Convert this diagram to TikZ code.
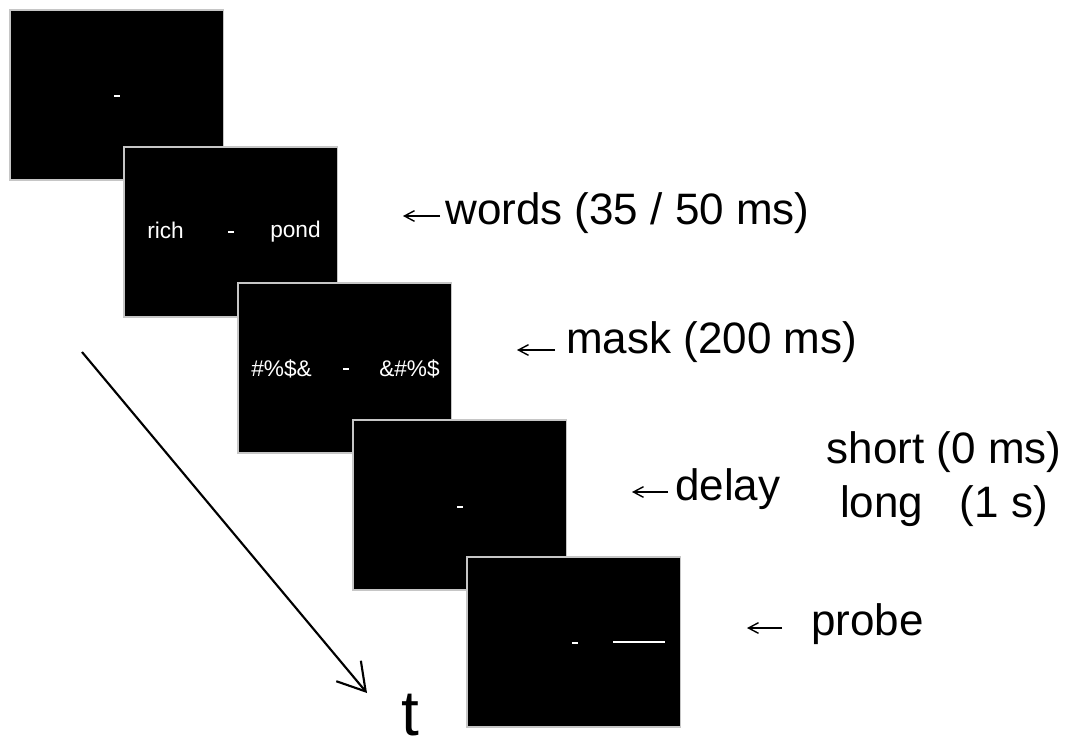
\documentclass[tikz,border=0pt]{standalone}
\usepackage{fontspec}
\setmainfont{Liberation Sans}
\usetikzlibrary{arrows.meta}

\begin{document}
\begin{tikzpicture}[x=0.75pt, y=-0.75pt,
  screen/.style={rectangle, fill=black, draw=gray!45, line width=0.8pt,
    anchor=north west, inner sep=0pt, outer sep=0pt,
    minimum width=160pt, minimum height=127.5pt},
  stim/.style={text=white, inner sep=0pt, anchor=base west,
    font=\fontsize{17}{20}\selectfont},
  fixmark/.style={fill=white, draw=none, inner sep=0pt,
    minimum width=4pt, minimum height=1.4pt},
  lbl/.style={inner sep=0pt, anchor=base west,
    font=\fontsize{33}{40}\selectfont},
  lblarrow/.style={line width=1.05pt, -{Straight Barb[length=7.5pt, width=8pt]}},
  timearrow/.style={line width=1.6pt, -{Straight Barb[length=20pt, width=24pt, line width=1.6pt]}}
]
\useasboundingbox (0,0) rectangle (1070,740);

% the five screens of a trial, each one overlapping the previous
\node[screen] (s1) at (10,10)   {};
\node[fixmark] (f1) at (117,96) {};

\node[screen] (s2) at (124,147) {};
\node[stim] (w1) at (147,238) {rich};
\node[fixmark] (f2) at (231,232) {};
\node[stim] (w2) at (270,237) {pond};

\node[screen] (s3) at (238,283) {};
\node[stim] (m1) at (251,376) {\#\%\$\&};
\node[fixmark] (f3) at (346,369) {};
\node[stim] (m2) at (379,376) {\&\#\%\$};

\node[screen] (s4) at (353,420) {};
\node[fixmark] (f4) at (460,507) {};

\node[screen] (s5) at (467,557) {};
\node[fixmark] (f5) at (575,643) {};
\coordinate (pl0) at (613,642);
\coordinate (pl1) at (665,642);
\draw[white, line width=1.4pt] (pl0) -- (pl1);

% timing labels with their pointers
\node[lbl] (lwords) at (445,224) {words (35 / 50 ms)};
\coordinate (aw0) at (440,216); \coordinate (aw1) at (403,216);
\draw[lblarrow] (aw0) -- (aw1);

\node[lbl] (lmask) at (566,353) {mask (200 ms)};
\coordinate (am0) at (555,350); \coordinate (am1) at (517,350);
\draw[lblarrow] (am0) -- (am1);

\node[lbl] (ldelay) at (675,500) {delay};
\coordinate (ad0) at (668,492); \coordinate (ad1) at (632,492);
\draw[lblarrow] (ad0) -- (ad1);

\node[inner sep=0pt, align=center, font=\fontsize{33}{40.5}\selectfont,
  anchor=base] (ldur) at (944,517) {short (0 ms)\\long\ \ \ (1 s)};

\node[lbl] (lprobe) at (811,635) {probe};
\coordinate (ap0) at (782,628); \coordinate (ap1) at (747,628);
\draw[lblarrow] (ap0) -- (ap1);

% time axis
\coordinate (t0) at (82,352);
\coordinate (t1) at (367,693);
\draw[timearrow] (t0) -- (t1);
\node[inner sep=0pt, anchor=base west, font=\fontsize{48}{54}\selectfont] (tl) at (401,735) {t};
\end{tikzpicture}
\end{document}
